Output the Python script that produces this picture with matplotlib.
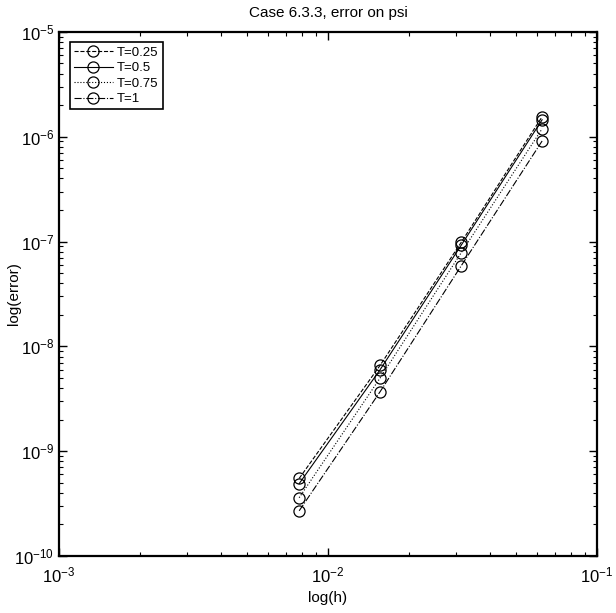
import numpy as np
import matplotlib.pyplot as plt

plt.rcParams['font.family'] = ['Liberation Sans', 'DejaVu Sans']
plt.rcParams['mathtext.fontset'] = 'custom'
plt.rcParams['mathtext.rm'] = 'Liberation Sans'

# mesh sizes
h = np.array([1/128, 1/64, 1/32, 1/16])

# error on psi for each final time
err_t025 = np.array([5.5e-10, 6.6e-9, 9.8e-8, 1.55e-6])
err_t05 = np.array([4.9e-10, 6.0e-9, 9.2e-8, 1.45e-6])
err_t075 = np.array([3.6e-10, 5.0e-9, 7.8e-8, 1.19e-6])
err_t1 = np.array([2.7e-10, 3.7e-9, 5.85e-8, 9.1e-7])

labels = ['T=0.25', 'T=0.5', 'T=0.75', 'T=1']
styles = ['--', '-', ':', '-.']

fig = plt.figure(figsize=(6.16, 6.13), dpi=100)
ax = fig.add_axes([0.0958, 0.093, 0.8734, 0.855])

for err, ls, lab in zip([err_t025, err_t05, err_t075, err_t1], styles, labels):
    ax.loglog(h, err, color='black', linestyle=ls, linewidth=0.8,
              marker='o', markersize=8, markerfacecolor='none',
              markeredgecolor='black', markeredgewidth=0.9, label=lab)

ax.set_xlim(1e-3, 1e-1)
ax.set_ylim(1e-10, 1e-5)
ax.set_xticks([1e-3, 1e-2, 1e-1])
ax.set_yticks([1e-10, 1e-9, 1e-8, 1e-7, 1e-6, 1e-5])

ax.tick_params(which='both', direction='in', top=True, right=True, labelsize=12)
ax.tick_params(which='major', length=6, width=1)
ax.tick_params(which='minor', length=3, width=0.8)
ax.tick_params(axis='x', which='both', pad=7)
for s in ax.spines.values():
    s.set_linewidth(1.6)

ax.set_title('Case 6.3.3, error on psi', fontsize=11, pad=11)
ax.set_xlabel('log(h)', fontsize=11, labelpad=4)
ax.set_ylabel('log(error)', fontsize=11)
ax.yaxis.set_label_coords(-0.07, 0.5)

leg = ax.legend(loc='upper left', fontsize=9.5, fancybox=False, framealpha=1,
                edgecolor='black', handlelength=3, borderpad=0.3,
                labelspacing=0.25, handletextpad=0.3, borderaxespad=0.8)
leg.get_frame().set_linewidth(1.2)

fig.savefig('out.png', dpi=100)
